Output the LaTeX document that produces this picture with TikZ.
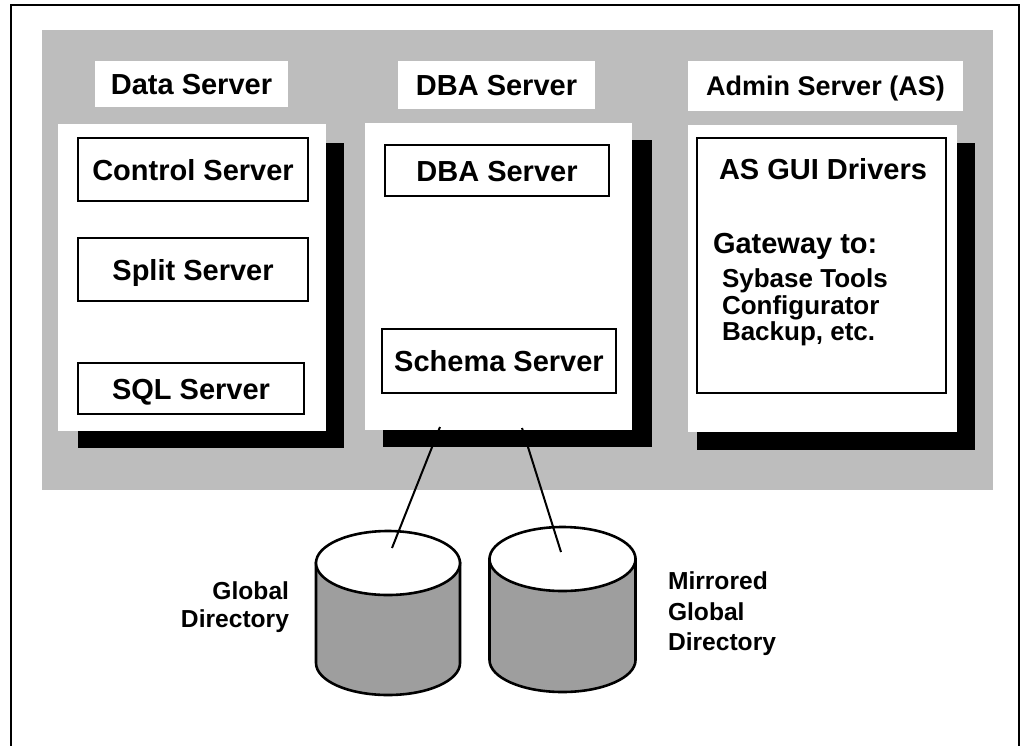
\documentclass[tikz,border=0pt]{standalone}
\usepackage{fontspec}
\setmainfont{Liberation Sans}
\newcommand\dbcyl[6]{%
  % #1 name, #2 centre x, #3 top y, #4 bottom y, #5 x radius, #6 y radius
  \filldraw[cylbody] (#2-#5,#3) -- (#2-#5,#4)
    arc[start angle=180, end angle=0, x radius=#5, y radius=#6]
    -- (#2+#5,#3) -- cycle;
  \filldraw[cyltop] (#2,#3) ellipse[x radius=#5, y radius=#6];
  \coordinate (#1) at (#2,#3);
}
\begin{document}
\begin{tikzpicture}[x=1pt, y=-1pt,
  every node/.style={inner sep=0pt, outer sep=0pt},
  bigtext/.style={font=\fontsize{29}{32}\selectfont\bfseries},
  midtext/.style={font=\fontsize{26}{27}\selectfont\bfseries},
  smalltext/.style={font=\fontsize{24.6}{28}\selectfont\bfseries},
  halftone/.style={fill=black!26},
  panel/.style={fill=white},
  shadowbar/.style={fill=black},
  srvbox/.style={draw, line width=1.8pt, fill=white, bigtext,
    text height=21pt, text depth=0pt},
  titlebox/.style={fill=white, bigtext, text height=21pt, text depth=0pt},
  cylbody/.style={fill=black!38, draw, line width=2.6pt},
  cyltop/.style={fill=white, draw, line width=2.6pt},
  link/.style={draw, line width=2pt}]
\useasboundingbox (0,0) rectangle (1024,745);

% outer frame (open at the bottom edge)
\draw[line width=2.2pt] (11,746) -- (11,5) -- (1019,5) -- (1019,746);

% shaded server area
\fill[halftone] (42,30) rectangle (993,490);

% server titles
\node[titlebox, minimum width=193, minimum height=46] (tdata) at (191.5,84) {Data Server};
\node[titlebox, minimum width=197, minimum height=48] (tdba) at (496.5,85) {DBA Server};
\node[titlebox, minimum width=275, minimum height=50, font=\fontsize{27}{30}\selectfont\bfseries, text height=19.5pt] (tadmin) at (825.5,86) {Admin Server (AS)};

% drop shadows and panels
\fill[shadowbar] (78,143) rectangle (344,448);
\node[panel, minimum width=268, minimum height=307] (pdata) at (192,277.5) {};
\fill[shadowbar] (383,140) rectangle (652,447);
\node[panel, minimum width=267, minimum height=307] (pdba) at (498.5,276.5) {};
\fill[shadowbar] (697,143) rectangle (975,450);
\node[panel, minimum width=269, minimum height=307] (padmin) at (822.5,278.5) {};

% data server processes
\node[srvbox, minimum width=230, minimum height=63] (ctrl) at (193,169.5) {Control Server};
\node[srvbox, minimum width=230, minimum height=63] (split) at (193,269.5) {Split Server};
\node[srvbox, minimum width=226, minimum height=51] (sql) at (191,388.5) {SQL Server};

% DBA server processes
\node[srvbox, minimum width=224, minimum height=51] (dba) at (497,170.5) {DBA Server};
\node[srvbox, minimum width=234, minimum height=64] (schema) at (499,361) {Schema Server};

% admin server
\node[draw, line width=1.8pt, fill=white, minimum width=249, minimum height=255] (asgui) at (821.5,265.5) {};
\node[bigtext, anchor=base] (asguit) at (823,179) {AS GUI Drivers};
\node[bigtext, anchor=base west] (gw) at (713,253) {Gateway to:};
\node[midtext, anchor=base west] (gw1) at (722,287) {Sybase Tools};
\node[midtext, anchor=base west] (gw2) at (722,314) {Configurator};
\node[midtext, anchor=base west] (gw3) at (722,340) {Backup, etc.};

% global directory disks
\dbcyl{gd}{388}{563}{663}{72}{32}
\dbcyl{mgd}{562.5}{559}{660}{73}{32}

\node[smalltext, align=right, anchor=north east] (gdl) at (289,582) {Global\\Directory};
\node[smalltext, align=left, anchor=north west, font=\fontsize{24.6}{30.5}\selectfont\bfseries] (mgdl) at (668,572) {Mirrored\\Global\\Directory};

% links from the schema server panel to the disks
\coordinate (portA) at (440,427);
\coordinate (portB) at (522,428);
\coordinate (gdin) at (392,548);
\coordinate (mgdin) at (561,552);
\draw[link] (portA) -- (gdin);
\draw[link] (portB) -- (mgdin);
\end{tikzpicture}
\end{document}
